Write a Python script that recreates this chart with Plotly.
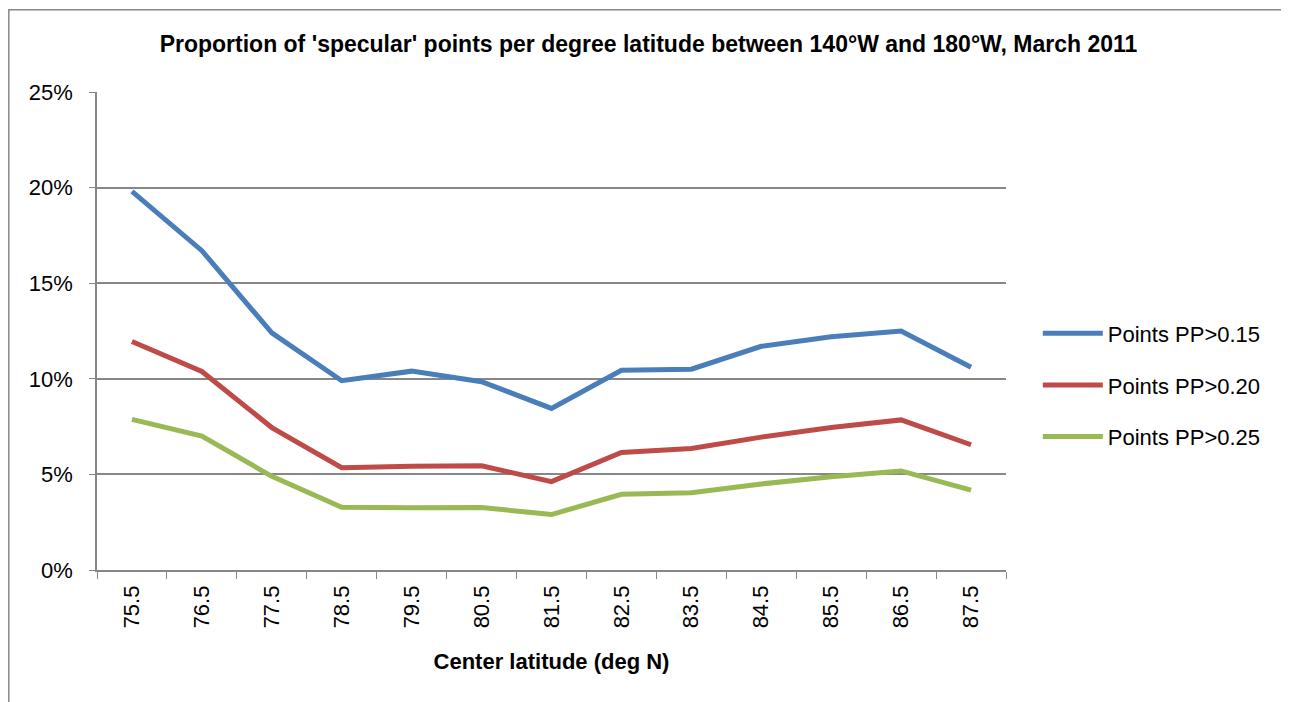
"""
Proportion of 'specular' points per degree latitude, recreated with Plotly.
"""

import plotly.graph_objects as go

latitudes = ["75.5", "76.5", "77.5", "78.5", "79.5", "80.5", "81.5",
             "82.5", "83.5", "84.5", "85.5", "86.5", "87.5"]
pp_015 = [19.8, 16.7, 12.4, 9.9, 10.4, 9.85, 8.45,
          10.45, 10.5, 11.7, 12.2, 12.5, 10.6]
pp_020 = [11.95, 10.38, 7.45, 5.35, 5.42, 5.45, 4.62,
          6.15, 6.35, 6.95, 7.45, 7.85, 6.55]
pp_025 = [7.88, 7.0, 4.9, 3.28, 3.25, 3.27, 2.9,
          3.96, 4.04, 4.5, 4.88, 5.18, 4.18]

series = [
    ("Points PP>0.15", pp_015, "#4A7EBB"),
    ("Points PP>0.20", pp_020, "#BE4B48"),
    ("Points PP>0.25", pp_025, "#98B954"),
]

FONT = "Liberation Sans"
GRID = "#878787"

fig = go.Figure()
for name, vals, color in series:
    fig.add_trace(go.Scatter(
        x=latitudes,
        y=vals,
        mode="lines",
        name=name,
        legendgroup=name,
        line=dict(color=color, width=5),
    ))

# page body has an 8px offset, so the figure is sized to fit the window
fig.update_layout(
    width=1281,
    height=694,
    margin=dict(l=89, r=283, t=84, b=132),
    paper_bgcolor="white",
    plot_bgcolor="white",
    font=dict(family=FONT, size=21, color="black"),
    title=dict(
        text="<b>Proportion of 'specular' points per degree latitude "
             "between 140°W and 180°W, March 2011</b>",
        x=0.5, xanchor="center", xref="container",
        y=0.948, yanchor="middle", yref="container",
        font=dict(family=FONT, size=23),
    ),
    legend=dict(
        x=1.035, y=0.387, xanchor="left", yanchor="middle",
        font=dict(size=22),
        itemwidth=60,
        tracegroupgap=20,
        bgcolor="rgba(0,0,0,0)",
    ),
    showlegend=True,
)

fig.update_xaxes(
    type="category",
    tickson="boundaries",
    ticks="outside",
    ticklen=7,
    tickcolor=GRID,
    tickangle=-90,
    ticklabelstandoff=5,
    showline=True,
    linecolor=GRID,
    linewidth=1.5,
    showgrid=False,
    range=[-0.5, 12.5],
    title=dict(text="<b>Center latitude (deg N)</b>", font=dict(size=22),
               standoff=26),
    tickfont=dict(size=22),
)

fig.update_yaxes(
    range=[0, 25],
    dtick=5,
    ticksuffix="%",
    ticks="outside",
    ticklen=6,
    tickcolor=GRID,
    ticklabelstandoff=12,
    showline=True,
    linecolor=GRID,
    linewidth=1.5,
    showgrid=True,
    gridcolor=GRID,
    gridwidth=1.5,
    zeroline=False,
    tickfont=dict(size=22),
)

# outer chart frame
fig.add_shape(
    type="rect", xref="paper", yref="paper",
    x0=-0.097, x1=1.3036, y0=-0.30, y1=1.172,
    line=dict(color="#888888", width=1.5),
    fillcolor="rgba(0,0,0,0)", layer="below",
)

fig.write_html("out.html")
